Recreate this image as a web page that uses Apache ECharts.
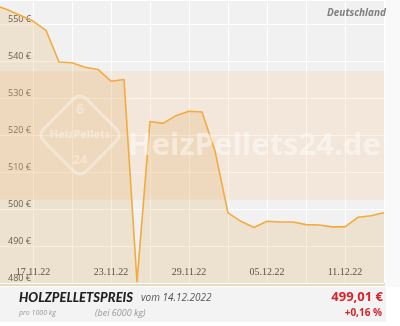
<!DOCTYPE html>
<html>
<head>
<meta charset="utf-8">
<script src="https://cdn.jsdelivr.net/npm/echarts@6/dist/echarts.min.js"></script>
<style>
html,body{margin:0;padding:0;background:#fff;overflow:hidden;width:400px;height:326px;position:relative;}
#c{position:absolute;left:-6px;top:0;width:406px;height:326px;}
</style>
</head>
<body>
<div id="c"></div>
<script>
const dates = ["14.11.22","15.11.22","16.11.22","17.11.22","18.11.22","19.11.22","20.11.22","21.11.22","22.11.22","23.11.22","24.11.22","25.11.22","26.11.22","27.11.22","28.11.22","29.11.22","30.11.22","01.12.22","02.12.22","03.12.22","04.12.22","05.12.22","06.12.22","07.12.22","08.12.22","09.12.22","10.12.22","11.12.22","12.12.22","13.12.22","14.12.22"];
const prices = [555.3,554.0,552.5,550.9,548.4,539.8,539.6,538.4,537.8,534.6,535.1,480.3,523.7,523.2,525.3,526.5,526.3,515.7,499.0,496.7,495.0,496.7,496.5,496.5,495.8,495.7,495.2,495.2,497.8,498.21,499.01];
const yTicks = [480,490,500,510,520,530,540,550];
const title = "HOLZPELLETSPREIS";
const dateText = "vom 14.12.2022";
const priceText = "499,01 €";
const changeText = "+0,16 %";
const region = "Deutschland";

// canvas is shifted 6px left of the page; O converts page x to canvas x
const O = 6;
const chart = echarts.init(document.getElementById('c'));
chart.setOption({
  animation: false,
  grid: {left: 0, right: 16, top: 0, height: 283, containLabel: false},
  xAxis: {
    type: 'category', data: dates, boundaryGap: false,
    axisLine: {show: false}, axisTick: {show: false},
    axisLabel: {inside: true, margin: 6, interval: (i) => (i - 3) % 6 === 0,
      fontFamily: 'Liberation Serif', fontSize: 10, color: '#333'},
    splitLine: {show: true, interval: (i) => i % 3 === 0, lineStyle: {color: '#ffffff', width: 1}}
  },
  yAxis: {
    type: 'value', min: yTicks[0], max: 556.6, minInterval: 10, maxInterval: 10,
    axisLine: {show: false}, axisTick: {show: false},
    axisLabel: {inside: true, margin: 14, showMaxLabel: false, verticalAlign: 'bottom',
      formatter: (v) => (yTicks.indexOf(v) >= 0 ? v + ' €' : ''),
      fontFamily: 'Liberation Sans Narrow, Open Sans', fontSize: 9, color: '#444'},
    splitLine: {show: true, lineStyle: {color: '#ffffff', width: 1}}
  },
  series: [{
    type: 'line', data: prices, symbol: 'none', smooth: false, z: 2,
    lineStyle: {color: '#f3ab3e', width: 1.6},
    areaStyle: {color: 'rgba(226,176,106,0.34)'},
    markArea: {silent: true, itemStyle: {color: 'rgba(246,205,150,0.25)'},
      data: [[{yAxis: 537.3}, {yAxis: 502.5}]]}
  }],
  graphic: [
    {type: 'rect', z: -10, shape: {x: O + 0, y: 0, width: 385, height: 283}, style: {fill: '#f1f1f1'}},
    {type: 'rect', z: -10, shape: {x: O + 385, y: 0, width: 15, height: 287}, style: {fill: '#f9f9f9'}},
    {type: 'rect', z: -10, shape: {x: O + 0, y: 283, width: 385, height: 3}, style: {fill: '#ecd8bb'}},
    {type: 'rect', z: -10, shape: {x: O + 0, y: 287, width: 386, height: 35}, style: {fill: '#f3f3f3'}},
    {type: 'rect', z: 5, silent: true, x: O + 80, y: 135, rotation: Math.PI / 4,
      shape: {x: -30, y: -30, width: 60, height: 60, r: 8},
      style: {fill: 'none', stroke: 'rgba(255,255,255,0.35)', lineWidth: 3}},
    {type: 'text', z: 5, silent: true, x: O + 80, y: 110, style: {text: '6', fontSize: 14, fontWeight: 'bold', fontFamily: 'Open Sans', fill: 'rgba(255,255,255,0.35)', align: 'center', verticalAlign: 'middle'}},
    {type: 'text', z: 5, silent: true, x: O + 80, y: 135, style: {text: 'HeizPellets', fontSize: 11, fontWeight: 'bold', fontFamily: 'Open Sans', fill: 'rgba(255,255,255,0.4)', align: 'center', verticalAlign: 'middle'}},
    {type: 'text', z: 5, silent: true, x: O + 80, y: 160, style: {text: '24', fontSize: 13, fontWeight: 'bold', fontFamily: 'Open Sans', fill: 'rgba(255,255,255,0.35)', align: 'center', verticalAlign: 'middle'}},
    {type: 'text', z: 5, silent: true, x: O + 128, y: 146, style: {text: 'HeizPellets24.de', fontSize: 31, fontFamily: 'Open Sans', fontWeight: 'bold', fill: 'rgba(255,255,255,0.45)', verticalAlign: 'middle'}},
    {type: 'text', z: 10, x: O + 386, y: 13, style: {text: region, fontSize: 10, fontWeight: 'bold', fontStyle: 'italic', fontFamily: 'Open Sans', fill: '#808080', align: 'right', verticalAlign: 'middle'}},
    {type: 'text', z: 10, x: O + 19, y: 298, style: {text: title, fontSize: 13, fontWeight: 900, fontStyle: 'italic', fontFamily: 'Lato', fill: '#222', verticalAlign: 'middle'}},
    {type: 'text', z: 10, x: O + 141, y: 298, style: {text: dateText, fontSize: 10, fontStyle: 'italic', fontFamily: 'Open Sans', fill: '#555', verticalAlign: 'middle'}},
    {type: 'text', z: 10, x: O + 19, y: 313, style: {text: 'pro 1000 kg', fontSize: 7, fontStyle: 'italic', fontFamily: 'Open Sans', fill: '#999', verticalAlign: 'middle'}},
    {type: 'text', z: 10, x: O + 95, y: 313, style: {text: '(bei 6000 kg)', fontSize: 9, fontStyle: 'italic', fontFamily: 'Open Sans', fill: '#999', verticalAlign: 'middle'}},
    {type: 'text', z: 10, x: O + 383, y: 297, style: {text: priceText, fontSize: 13, fontWeight: 'bold', fontFamily: 'Open Sans', fill: '#d8232a', align: 'right', verticalAlign: 'middle'}},
    {type: 'text', z: 10, x: O + 382, y: 313, style: {text: changeText, fontSize: 10, fontWeight: 'bold', fontFamily: 'Open Sans', fill: '#d8232a', align: 'right', verticalAlign: 'middle'}}
  ]
});
</script>
</body>
</html>
